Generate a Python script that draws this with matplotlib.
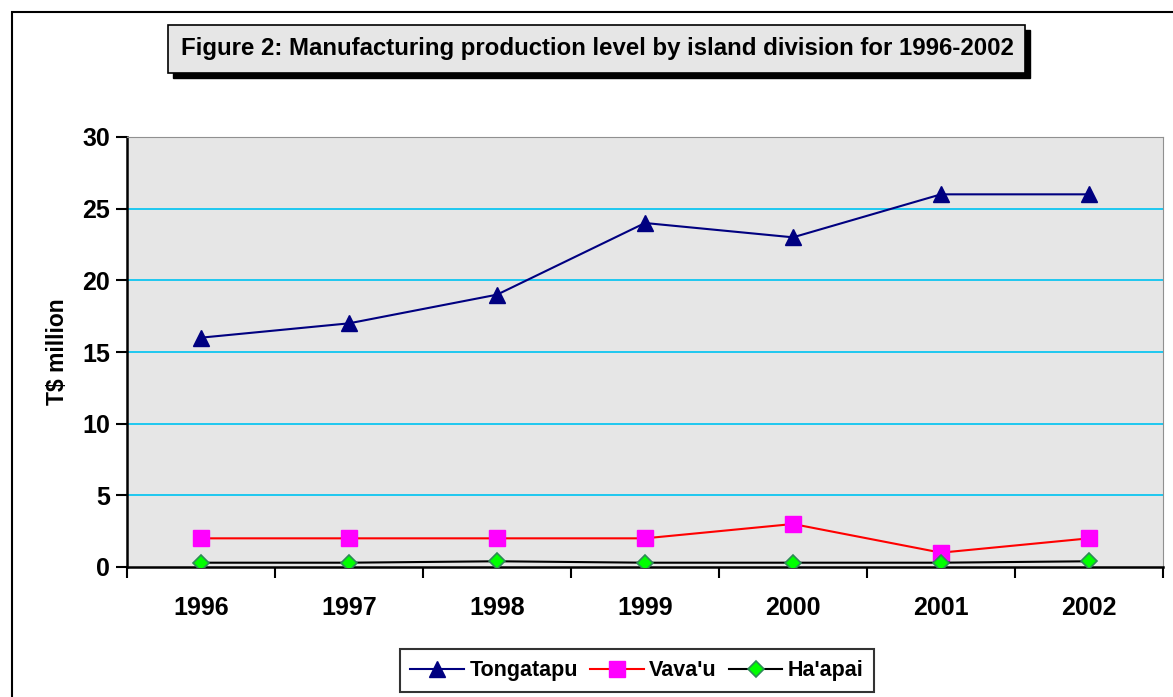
import matplotlib.pyplot as plt
from matplotlib.patches import Rectangle

years = ['1996', '1997', '1998', '1999', '2000', '2001', '2002']
tongatapu = [16, 17, 19, 24, 23, 26, 26]
vavau = [2, 2, 2, 2, 3, 1, 2]
haapai = [0.3, 0.3, 0.4, 0.3, 0.3, 0.3, 0.4]

plt.rcParams['font.family'] = ['Liberation Sans', 'DejaVu Sans']
plt.rcParams['font.weight'] = 'bold'

W, H = 1173, 697
fig = plt.figure(figsize=(W / 100, H / 100), dpi=100)

# outer chart border
fig.patches.append(Rectangle((12 / W, -0.05), 1.1, 1 - 12 / H + 0.05, transform=fig.transFigure,
                             fill=False, ec='black', lw=1.5))

ax = fig.add_axes([127 / W, 130 / H, 1036 / W, 430 / H])
ax.set_facecolor('#e6e6e6')
x = list(range(len(years)))

for y in range(5, 30, 5):
    ax.axhline(y, color='#1ec8f0', lw=1.4, zorder=1)

ax.plot(x, tongatapu, color='#000080', lw=1.5, marker='^', markersize=12,
        markerfacecolor='#000080', markeredgecolor='#000080', label='Tongatapu', zorder=3)
ax.plot(x, vavau, color='#ff0000', lw=1.5, marker='s', markersize=12,
        markerfacecolor='#ff00ff', markeredgecolor='#ff00ff', label="Vava'u", zorder=3)
ax.plot(x, haapai, color='black', lw=1.5, marker='D', markersize=8,
        markerfacecolor='#00ff00', markeredgecolor='#2e8b57', markeredgewidth=1.2,
        label="Ha'apai", zorder=3)

ax.set_xlim(-0.5, len(years) - 0.5)
ax.set_ylim(0, 30)
ax.set_yticks(range(0, 31, 5))
ax.set_xticks(x)
ax.set_xticklabels(years)
ax.set_xticks([i - 0.5 for i in range(len(years) + 1)], minor=True)
ax.tick_params(axis='x', which='major', length=0, pad=21, labelsize=18)
ax.tick_params(axis='x', which='minor', length=8, width=1.5, direction='out')
ax.tick_params(axis='y', length=8, width=1.5, direction='out', labelsize=18, pad=4)

ax.spines['top'].set_color('#909090')
ax.spines['right'].set_color('#909090')
ax.spines['left'].set_linewidth(1.8)
ax.spines['bottom'].set_linewidth(1.8)

ax.set_ylabel('T$ million', fontsize=16.5, fontweight='bold', labelpad=10)

# title box with shadow
fig.patches.append(Rectangle((173 / W, 1 - 78 / H), 857 / W, 48 / H, transform=fig.transFigure,
                             fc='black', ec='black', zorder=1))
fig.patches.append(Rectangle((168 / W, 1 - 73 / H), 857 / W, 48 / H, transform=fig.transFigure,
                             fc='#e6e6e6', ec='black', lw=1.2, zorder=2))
fig.text(597 / W, 1 - 49 / H, 'Figure 2: Manufacturing production level by island division for 1996-2002',
         ha='center', va='center', fontsize=17.3, fontweight='bold', zorder=3)

leg = fig.legend(loc='lower center', bbox_to_anchor=(637 / W, 5 / H), ncol=3, frameon=True,
                 fontsize=15.5, fancybox=False, edgecolor='black', handlelength=2.5,
                 columnspacing=0.55, handletextpad=0.25, borderpad=0.5, borderaxespad=0)
leg.get_frame().set_linewidth(1.5)

fig.savefig('out.png', dpi=100)
